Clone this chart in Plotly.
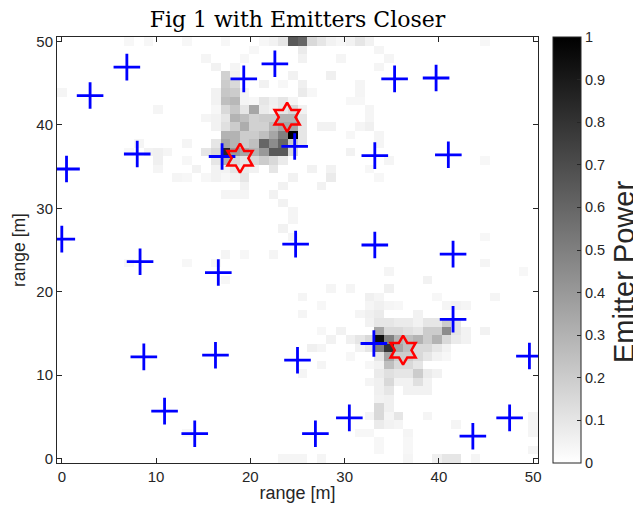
import numpy as np
import plotly.graph_objects as go

# ---- data ----
n_cells = 50
grid_max = 50.0

# (column index, row index, power) for the non-zero cells of the 50x50 map
top_cluster_cells = [
    (13,49,.03),(17,49,.03),(21,49,.03),(22,49,.05),(23,49,.1),(24,49,.65),(25,49,.6),(26,49,.15),(27,49,.1),(28,49,.05),(29,49,.03),
    (20,48,.03),(25,48,.08),
    (15,47,.04),(19,47,.03),(25,47,.05),(29,47,.04),
    (16,46,.05),(18,46,.04),
    (17,45,.18),(18,45,.05),(24,45,.05),(28,45,.06),
    (17,44,.2),(18,44,.15),(21,44,.05),(23,44,.03),(25,44,.06),
    (16,43,.05),(17,43,.22),(18,43,.2),(19,43,.04),(25,43,.08),(26,43,.03),
    (16,42,.05),(17,42,.25),(18,42,.28),(19,42,.04),(20,42,.03),(21,42,.1),(22,42,.06),(23,42,.1),(24,42,.04),
    (16,41,.03),(17,41,.15),(18,41,.22),(19,41,.1),(20,41,.35),(21,41,.08),(22,41,.05),(23,41,.1),(24,41,.15),(25,41,.05),
    (15,40,.04),(16,40,.05),(17,40,.1),(18,40,.3),(19,40,.25),(20,40,.18),(21,40,.2),(22,40,.2),(23,40,.3),(24,40,.3),(25,40,.1),
    (16,39,.05),(17,39,.12),(18,39,.2),(19,39,.32),(20,39,.18),(21,39,.18),(22,39,.28),(23,39,.35),(24,39,.35),(25,39,.1),(27,39,.05),(28,39,.05),
    (17,38,.3),(18,38,.3),(19,38,.2),(20,38,.2),(21,38,.25),(22,38,.35),(23,38,.5),(24,38,1.0),(25,38,.1),
    (16,37,.1),(17,37,.35),(18,37,.3),(19,37,.2),(20,37,.25),(21,37,.6),(22,37,.45),(23,37,.6),(24,37,.2),(25,37,.1),
    (15,36,.1),(16,36,.15),(17,36,.85),(18,36,.4),(19,36,.35),(20,36,.3),(21,36,.4),(22,36,.65),(23,36,.65),(24,36,.15),
    (13,35,.03),(16,35,.1),(17,35,.3),(18,35,.15),(19,35,.1),(20,35,.15),(21,35,.2),(22,35,.15),(23,35,.08),
    (14,34,.05),(16,34,.05),(17,34,.05),(18,34,.1),(19,34,.08),(20,34,.05),(22,34,.1),(26,34,.05),(28,34,.05),
    (13,33,.03),(15,33,.03),(16,33,.05),(17,33,.03),(18,33,.05),(19,33,.1),(24,33,.05),(28,33,.08),
    (19,32,.05),(23,32,.05),(27,32,.05),
    (17,31,.04),(18,31,.04),(19,31,.04),(22,31,.05),
    (23,30,.05),(24,29,.04),(24,28,.04),
]

bottom_cluster_cells = [
    (44,23,.04),(34,22,.04),(48,22,.03),(38,21,.05),
    (28,20,.04),(30,20,.04),(34,20,.06),
    (32,19,.06),(33,19,.04),(39,19,.03),(45,19,.04),
    (27,18,.03),(32,18,.04),(33,18,.06),(34,18,.04),(35,18,.03),(40,18,.04),(41,18,.05),(42,18,.04),
    (31,17,.04),(32,17,.06),(33,17,.08),(37,17,.05),
    (32,16,.05),(33,16,.1),(34,16,.1),(35,16,.08),(36,16,.08),(37,16,.05),(38,16,.1),(39,16,.1),(40,16,.2),(41,16,.1),
    (27,15,.03),(29,15,.05),(33,15,.35),(34,15,.15),(35,15,.15),(36,15,.12),(37,15,.1),(38,15,.2),(39,15,.2),(40,15,.45),(41,15,.1),(42,15,.05),(44,15,.05),
    (28,14,.05),(30,14,.06),(31,14,.1),(32,14,.15),(33,14,.95),(34,14,.5),(35,14,.3),(36,14,.25),(37,14,.3),(38,14,.2),(39,14,.3),(40,14,.15),(41,14,.08),(42,14,.05),
    (31,13,.05),(32,13,.1),(33,13,.5),(34,13,.8),(35,13,.35),(36,13,.25),(37,13,.15),(38,13,.15),(39,13,.1),(40,13,.05),
    (30,12,.03),(33,12,.1),(34,12,.35),(35,12,.2),(36,12,.2),(37,12,.15),(38,12,.1),(39,12,.05),(40,12,.03),
    (32,11,.03),(33,11,.05),(34,11,.25),(35,11,.15),(36,11,.15),(37,11,.1),
    (33,10,.08),(34,10,.12),(35,10,.1),(36,10,.1),(37,10,.2),(38,10,.08),(39,10,.05),
    (32,9,.04),(33,9,.06),(34,9,.15),(35,9,.05),(36,9,.05),(37,9,.12),(38,9,.05),
    (33,8,.06),(34,8,.1),(36,8,.05),(37,8,.05),(38,8,.05),
    (33,7,.05),(34,7,.06),
    (33,6,.15),(34,6,.06),
    (32,5,.04),(33,5,.15),(34,5,.04),(35,5,.1),(38,5,.04),(49,5,.04),
    (33,4,.08),(34,4,.05),(35,4,.04),(41,4,.04),(49,4,.04),
    (31,3,.03),(32,3,.03),(36,3,.04),(49,3,.04),
    (33,2,.03),(36,2,.03),
    (33,1,.03),(36,1,.03),(49,1,.04),
    (23,0,.04),(24,0,.04),(25,0,.04),(27,0,.04),(36,0,.04),(39,0,.06),(40,0,.1),(41,0,.1),(43,0,.04),
]

faint_cells = [
    (7,49,.03),(9,49,.03),(0,43,.04),(10,41,.04),(8,37,.04),(7,36,.03),(9,36,.05),(10,36,.06),(11,36,.04),
    (10,35,.06),(10,34,.04),(12,33,.04),(13,37,.04),(13,35,.03),(7,23,.03),(13,23,.03),(13,3,.03),
    (23,27,.05),(24,26,.04),(17,24,.04),(19,24,.03),(22,24,.04),(16,23,.03),(17,21,.03),
    (25,19,.04),(27,18,.04),(25,17,.04),(27,15,.04),(26,13,.06),(27,13,.04),(27,11,.04),(25,10,.04),
    (30,49,.05),(31,49,.1),(32,49,.05),(33,48,.04),(34,47,.04),(33,46,.04),(31,44,.04),(31,43,.04),
    (30,42,.03),(31,42,.03),(32,41,.04),(32,40,.04),(31,39,.04),(32,39,.06),(30,38,.03),(33,38,.04),
    (33,37,.04),(30,36,.05),(34,35,.04),(32,34,.03),(33,33,.03),(44,35,.03),(44,49,.03),(44,26,.03),
]

sensor_x = [3.0, 6.9, 19.3, 22.6, 8.0, 0.5, 0.0, 17.0, 24.7, 35.3, 39.7, 33.2, 41.0, 8.3, 16.6,
            24.8, 33.2, 41.5, 41.5, 8.7, 16.3, 25.0, 33.1, 49.6, 10.9, 14.1, 26.9, 30.5, 43.6, 47.5]
sensor_y = [43.5, 46.9, 45.5, 47.3, 36.5, 34.7, 26.3, 36.2, 37.4, 45.5, 45.6, 36.3, 36.4, 23.6, 22.3,
            25.7, 25.6, 24.5, 16.7, 12.2, 12.4, 11.8, 13.8, 12.3, 5.7, 3.0, 3.0, 4.9, 2.7, 4.9]

emitter_x = [23.9, 18.9, 36.2]
emitter_y = [40.9, 36.0, 13.0]

axis_ticks = [0, 10, 20, 30, 40, 50]
cbar_ticks = [0, 0.1, 0.2, 0.3, 0.4, 0.5, 0.6, 0.7, 0.8, 0.9, 1]

# ---- build grid ----
centers = np.linspace(0, grid_max, n_cells)
z = np.zeros((n_cells, n_cells))
for cells in (faint_cells, bottom_cluster_cells, top_cluster_cells):
    for i, j, v in cells:
        z[j, i] = v

half = grid_max / (n_cells - 1) / 2
ink = "#262626"
sans = "Liberation Sans, Arial, Helvetica"

# page body has an 8px margin, so the figure is sized to fit the 641x518 window
W, H = 633, 510
ml, mt, pw, ph = 49, 29, 481, 426

fig = go.Figure()
fig.add_trace(go.Heatmap(
    x=centers, y=centers, z=z, zmin=0, zmax=1,
    colorscale=[[0, "#ffffff"], [1, "#000000"]],
    showscale=True,
    colorbar=dict(
        x=1.031, xanchor="left", xref="paper",
        y=0.5, yanchor="middle", len=1, lenmode="fraction",
        thickness=28, thicknessmode="pixels", xpad=0, ypad=0,
        outlinewidth=1, outlinecolor=ink,
        tickvals=cbar_ticks, ticktext=[f"{t:g}" for t in cbar_ticks],
        ticks="inside", ticklen=4, tickcolor=ink,
        tickfont=dict(family=sans, size=14.5, color=ink),
    ),
    hoverinfo="skip",
))
fig.add_trace(go.Scatter(
    x=sensor_x, y=sensor_y, mode="markers",
    marker=dict(symbol="cross-thin-open", size=19, color="#0000ff",
                line=dict(color="#0000ff", width=2.8)),
    showlegend=False,
))
fig.add_trace(go.Scatter(
    x=emitter_x, y=emitter_y, mode="markers",
    marker=dict(symbol="hexagram-open", size=22, color="#ff0000",
                line=dict(color="#ff0000", width=2.5)),
    showlegend=False,
))

axis_common = dict(
    range=[-half, grid_max + half], tickvals=axis_ticks,
    showline=True, linecolor=ink, linewidth=1, mirror="ticks",
    ticks="inside", ticklen=5, tickcolor=ink,
    showgrid=False, zeroline=False, automargin=False,
    tickfont=dict(family=sans, size=15, color=ink),
)
fig.update_layout(
    width=W, height=H,
    margin=dict(l=ml, r=W - ml - pw, t=mt, b=H - mt - ph, autoexpand=False),
    paper_bgcolor="white", plot_bgcolor="white",
    title=dict(text="Fig 1 with Emitters Closer", x=0.5, xref="paper", xanchor="center",
               y=1 - 11 / H, yref="container", yanchor="middle",
               font=dict(family="DejaVu Serif, Liberation Serif", size=22, color="#000000")),
    xaxis=dict(axis_common, title=dict(text="range [m]", standoff=2,
               font=dict(family=sans, size=18, color=ink))),
    yaxis=dict(axis_common, title=dict(text="range [m]", standoff=6,
               font=dict(family=sans, size=17.5, color=ink))),
    annotations=[dict(text="Emitter Power", textangle=-90, showarrow=False,
                      xref="paper", yref="paper",
                      x=(624 - 57) / pw, y=1 - (272 - 37) / ph,
                      xanchor="center", yanchor="middle",
                      font=dict(family=sans, size=29, color=ink))],
    showlegend=False,
)
fig.write_html("out.html")
